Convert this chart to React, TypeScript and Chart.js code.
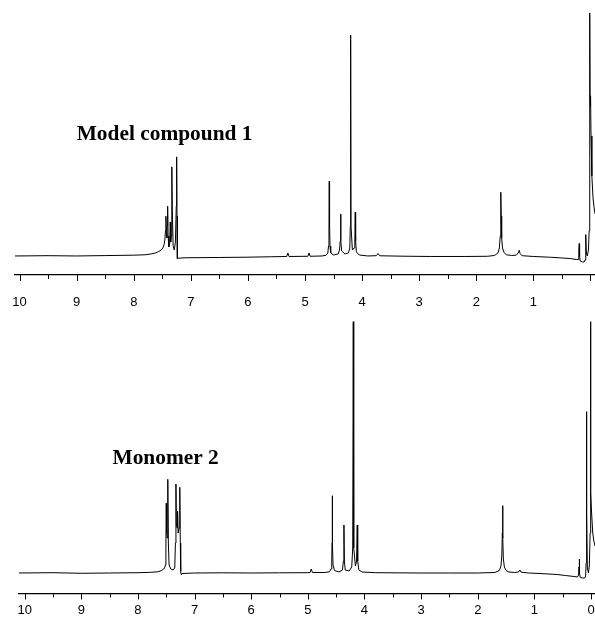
import { useEffect, useRef } from "react";
import { Chart, registerables } from "chart.js";

Chart.register(...registerables);

// Chemical shift axis (ppm)
const majorTicks = [0, 1, 2, 3, 4, 5, 6, 7, 8, 9, 10];
const minorTicks = [0.5, 1.5, 2.5, 3.5, 4.5, 5.5, 6.5, 7.5, 8.5, 9.5];
const topTickLabels = ["", "1", "2", "3", "4", "5", "6", "7", "8", "9", "10"];
const bottomTickLabels = ["0", "1", "2", "3", "4", "5", "6", "7", "8", "9", "10"];

const topTitle = "Model compound 1";
const bottomTitle = "Monomer 2";

// Spectrum traces: [ppm, intensity]
const topTrace: [number, number][] = [
  [10.08, 0], [9.5, 0.3], [9.0, 0], [8.5, 0.4], [8.0, 0.8], [7.8, 1.2], [7.7, 2],
  [7.62, 3], [7.56, 4.5], [7.52, 6], [7.49, 8], [7.47, 11], [7.455, 16], [7.445, 25],
  [7.436, 39.7], [7.428, 22], [7.42, 18], [7.413, 30], [7.406, 49.7], [7.398, 20],
  [7.385, 9], [7.37, 12], [7.36, 34], [7.352, 14], [7.343, 20], [7.336, 60], [7.33, 89],
  [7.324, 45], [7.31, 10], [7.29, 6], [7.27, 14], [7.255, 50], [7.248, 99], [7.242, 40],
  [7.236, -2.6], [7.22, -2.2], [7.1, -1.8], [6.5, -1.5], [6.0, -1.2], [5.6, -0.8],
  [5.32, -0.5], [5.3, 3], [5.28, -0.5], [4.95, -0.3], [4.93, 3], [4.91, -0.3], [4.7, 0],
  [4.63, 0.8], [4.6, 3], [4.588, 10], [4.58, 30], [4.575, 74.7], [4.57, 30], [4.562, 10],
  [4.55, 3], [4.5, 1], [4.42, 2], [4.395, 6], [4.383, 15], [4.376, 42], [4.37, 15],
  [4.358, 5], [4.3, 2], [4.24, 3], [4.215, 8], [4.206, 30], [4.2, 220.7], [4.194, 30],
  [4.17, 6], [4.14, 8], [4.127, 15], [4.12, 43.7], [4.113, 15], [4.1, 4], [4.05, 1],
  [3.9, 0], [3.75, 0.3], [3.72, 2.4], [3.69, 0.2], [3.3, -0.2], [2.8, -0.5], [2.2, -0.5],
  [1.8, -0.3], [1.68, 0.5], [1.62, 3], [1.595, 8], [1.58, 20], [1.572, 40], [1.568, 63.7],
  [1.563, 40], [1.555, 18], [1.54, 8], [1.515, 3.5], [1.47, 1.2], [1.38, 0.5], [1.3, 0.8],
  [1.265, 3], [1.247, 5.7], [1.232, 2.5], [1.2, 0.3], [1.0, -0.5], [0.7, -1.3], [0.5, -2],
  [0.35, -2.6], [0.25, -3.5], [0.215, -3.5], [0.204, 5], [0.196, 12.4], [0.19, 0],
  [0.18, -5], [0.14, -6], [0.11, -6], [0.095, -4], [0.085, 4], [0.079, 21.4], [0.072, 3],
  [0.055, 0], [0.035, 6], [0.022, 25], [0.014, 100], [0.01, 242.7], [0.005, 150],
  [-0.002, 160], [-0.01, 120], [-0.025, 80], [-0.045, 58], [-0.065, 48], [-0.08, 42],
];

const bottomTrace: [number, number][] = [
  [10.1, 0], [9.5, 0.3], [9.0, -0.3], [8.5, 0], [8.0, 0.3], [7.8, 0.6], [7.65, 1.2],
  [7.58, 2.5], [7.545, 4], [7.53, 5], [7.515, 8], [7.506, 30], [7.5, 69.7], [7.494, 40],
  [7.485, 35], [7.476, 60], [7.47, 93.7], [7.463, 30], [7.45, 8], [7.42, 4], [7.38, 3],
  [7.35, 5], [7.338, 30], [7.329, 89], [7.322, 50], [7.31, 45], [7.3, 62], [7.29, 40],
  [7.272, 45], [7.264, 70], [7.258, 85.7], [7.252, 30], [7.245, 2], [7.235, -2],
  [7.22, -0.5], [7.0, 0], [6.5, 0.2], [6.0, 0], [5.5, 0.2], [5.0, 0.3], [4.96, 0.5],
  [4.94, 4], [4.92, 0.5], [4.7, 0.5], [4.62, 1.2], [4.59, 4], [4.578, 12], [4.573, 30],
  [4.569, 77.3], [4.564, 30], [4.555, 8], [4.53, 2.5], [4.45, 1], [4.39, 3], [4.372, 12],
  [4.363, 48], [4.355, 12], [4.34, 3], [4.27, 2], [4.225, 6], [4.208, 25], [4.198, 251.3],
  [4.19, 25], [4.16, 7], [4.14, 12], [4.128, 48], [4.12, 12], [4.1, 3], [4.04, 1],
  [3.8, 0.3], [3.0, 0], [2.5, 0], [2.0, 0], [1.7, 0.5], [1.62, 2.5], [1.59, 7],
  [1.575, 18], [1.566, 40], [1.561, 67.3], [1.556, 35], [1.548, 14], [1.53, 6], [1.5, 2.5],
  [1.45, 1], [1.35, 0.5], [1.28, 1], [1.255, 3], [1.235, 0.8], [1.1, 0], [0.9, -0.5],
  [0.6, -1.5], [0.45, -2.5], [0.3, -3.5], [0.24, -4], [0.22, -2], [0.212, 6], [0.208, 14],
  [0.202, 0], [0.19, -4.5], [0.15, -5], [0.11, -5], [0.095, -3], [0.087, 10], [0.081, 60],
  [0.078, 161.3], [0.074, 60], [0.065, 5], [0.045, 0], [0.03, 8], [0.016, 40], [0.01, 120],
  [0.007, 251.3], [0.002, 80], [-0.01, 60], [-0.03, 40], [-0.05, 32], [-0.07, 27],
];

type PanelProps = {
  trace: [number, number][];
  tickLabels: string[];
  title: string;
  titlePos: [number, number];
  xMin: number;
  xMax: number;
  yMin: number;
  yMax: number;
  padLeft: number;
  labelPadding: number;
  height: number;
  top: number;
};

function Panel(p: PanelProps) {
  const ref = useRef<HTMLCanvasElement | null>(null);
  useEffect(() => {
    if (!ref.current) return;
    const ticksPlugin = {
      id: "nmrTicks",
      afterDraw(chart: any) {
        const ctx = chart.ctx;
        const xs = chart.scales.x;
        const y0 = chart.chartArea.bottom;
        ctx.save();
        ctx.strokeStyle = "#000";
        ctx.lineWidth = 1;
        ctx.beginPath();
        majorTicks.forEach((v) => {
          const x = Math.round(xs.getPixelForValue(v)) + 0.5;
          ctx.moveTo(x, y0);
          ctx.lineTo(x, y0 + 6);
        });
        minorTicks.forEach((v) => {
          const x = Math.round(xs.getPixelForValue(v)) + 0.5;
          ctx.moveTo(x, y0);
          ctx.lineTo(x, y0 + 4);
        });
        ctx.stroke();
        // panel title
        ctx.fillStyle = "#000";
        ctx.font = "bold 21.4px 'Liberation Serif', 'Times New Roman', serif";
        ctx.textAlign = "left";
        ctx.textBaseline = "alphabetic";
        ctx.fillText(
          p.title,
          xs.getPixelForValue(p.titlePos[0]),
          chart.scales.y.getPixelForValue(p.titlePos[1])
        );
        ctx.restore();
      },
    };
    const chart = new Chart(ref.current, {
      type: "line",
      data: {
        datasets: [
          {
            data: p.trace.map(([x, y]) => ({ x, y })),
            borderColor: "#000",
            borderWidth: 1,
            pointRadius: 0,
            tension: 0,
            fill: false,
          },
        ],
      },
      options: {
        animation: false,
        responsive: false,
        layout: { padding: { left: p.padLeft, right: 0, top: 0, bottom: 0 } },
        plugins: { legend: { display: false }, tooltip: { enabled: false } },
        scales: {
          x: {
            type: "linear",
            reverse: true,
            min: p.xMin,
            max: p.xMax,
            afterBuildTicks: (axis: any) => {
              axis.ticks = majorTicks.map((v) => ({ value: v }));
            },
            grid: { display: true, drawOnChartArea: false, drawTicks: false },
            border: { display: true, color: "#000", width: 1.2 },
            ticks: {
              autoSkip: false,
              maxRotation: 0,
              padding: p.labelPadding,
              color: "#000",
              font: { family: "'Liberation Sans', Arial, sans-serif", size: 13 },
              callback: (v: any) => {
                const i = majorTicks.indexOf(Number(v));
                return i >= 0 ? p.tickLabels[i] : "";
              },
            },
          },
          y: { type: "linear", display: false, min: p.yMin, max: p.yMax },
        },
      },
      plugins: [ticksPlugin],
    } as any);
    return () => chart.destroy();
  }, []);
  return (
    <canvas
      ref={ref}
      width={595}
      height={p.height}
      style={{ position: "absolute", left: 0, top: p.top, width: 595, height: p.height, display: "block" }}
    />
  );
}

export default function App() {
  return (
    <div
      style={{
        position: "absolute",
        left: 0,
        top: 0,
        width: 595,
        height: 619,
        background: "#fff",
        overflow: "hidden",
      }}
    >
      <Panel
        trace={topTrace}
        tickLabels={topTickLabels}
        title={topTitle}
        titlePos={[9.0, 115.7]}
        xMin={-0.08}
        xMax={10.08}
        yMin={-19}
        yMax={255.7}
        padLeft={15}
        labelPadding={19.2}
        height={329}
        top={0}
      />
      <Panel
        trace={bottomTrace}
        tickLabels={bottomTickLabels}
        title={bottomTitle}
        titlePos={[8.45, 108.7]}
        xMin={-0.07}
        xMax={10.1}
        yMin={-20.4}
        yMax={263}
        padLeft={19}
        labelPadding={9}
        height={317}
        top={310}
      />
    </div>
  );
}
